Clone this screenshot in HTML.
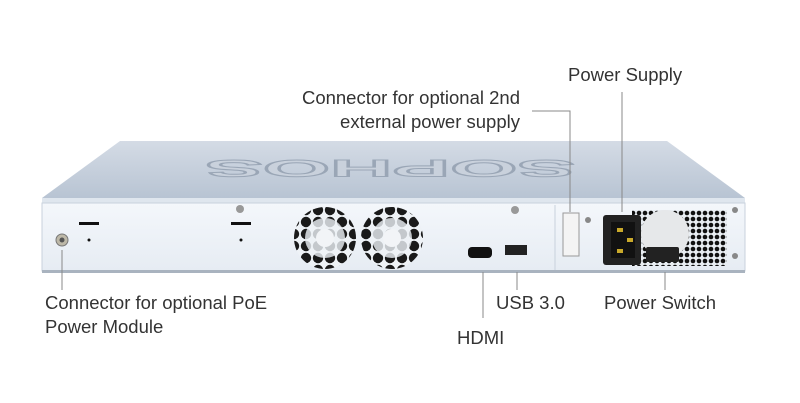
<!DOCTYPE html>
<html><head><style>
html,body{margin:0;padding:0;background:#fff;}
svg{display:block}
text{font-family:"Liberation Sans",sans-serif;font-size:18.5px;fill:#333;}
</style></head><body>
<svg width="800" height="403" viewBox="0 0 800 403">
<defs>
<linearGradient id="top" x1="0" y1="0" x2="0" y2="1">
<stop offset="0" stop-color="#d4dbe5"/><stop offset="1" stop-color="#b8c4d3"/>
</linearGradient>
<linearGradient id="front" x1="0" y1="0" x2="0" y2="1">
<stop offset="0" stop-color="#f4f7fb"/><stop offset="1" stop-color="#e6ecf3"/>
</linearGradient>
<pattern id="mesh" width="6" height="6" patternUnits="userSpaceOnUse">
<rect width="6" height="6" fill="#e8edf2"/><circle cx="3" cy="3" r="2.3" fill="#111"/>
</pattern>
<pattern id="hex" width="12" height="12" patternUnits="userSpaceOnUse">
<rect width="12" height="12" fill="#eef2f6"/><circle cx="6" cy="6" r="5.2" fill="#1a1a1a"/>
</pattern>
<pattern id="hexl" width="12" height="12" patternUnits="userSpaceOnUse">
<rect width="12" height="12" fill="#eef2f6"/><circle cx="6" cy="6" r="5.2" fill="#c4c8cc"/>
</pattern>
</defs>
<polygon points="42,198 120,141 667,141 745,198" fill="url(#top)"/>
<text x="390" y="176" text-anchor="middle" transform="rotate(180 390 168)" textLength="370" lengthAdjust="spacingAndGlyphs" style="font-size:24px;font-weight:bold;fill:#c9d1dc;stroke:#9aa6b6;stroke-width:1">SOPHOS</text>
<rect x="42" y="198" width="703" height="6" fill="#dfe6ee"/>
<rect x="42" y="203" width="703" height="68" fill="url(#front)" stroke="#c8d1dc"/>
<rect x="42" y="270" width="703" height="3" fill="#a9b3bf"/>
<line x1="555" y1="205" x2="555" y2="270" stroke="#c8d1dc"/>
<circle cx="62" cy="240" r="6" fill="#bdb8a8" stroke="#777"/>
<circle cx="62" cy="240" r="2.5" fill="#555"/>
<rect x="79" y="222" width="20" height="3" fill="#111"/><circle cx="89" cy="240" r="1.5" fill="#111"/>
<rect x="231" y="222" width="20" height="3" fill="#111"/><circle cx="241" cy="240" r="1.5" fill="#111"/>
<circle cx="240" cy="209" r="4" fill="#999"/>
<circle cx="515" cy="210" r="4" fill="#999"/>
<g>
<circle cx="325" cy="238" r="31" fill="url(#hex)"/><circle cx="325" cy="238" r="20" fill="url(#hexl)"/><circle cx="325" cy="238" r="9" fill="#f2f4f7"/>
<circle cx="392" cy="238" r="31" fill="url(#hex)"/><circle cx="392" cy="238" r="20" fill="url(#hexl)"/><circle cx="392" cy="238" r="9" fill="#f2f4f7"/>
</g>
<rect x="468" y="247" width="24" height="11" rx="4" fill="#111"/>
<rect x="505" y="245" width="22" height="10" fill="#222"/>
<rect x="563" y="213" width="16" height="43" fill="#f4f4f4" stroke="#999"/>
<circle cx="588" cy="220" r="3" fill="#888"/>
<rect x="632" y="210" width="95" height="56" fill="url(#mesh)"/>
<circle cx="665" cy="234" r="24" fill="#e6e8ea"/>
<rect x="603" y="215" width="38" height="50" rx="3" fill="#222"/>
<rect x="611" y="222" width="24" height="36" fill="#111"/>
<rect x="617" y="228" width="6" height="4" fill="#c9a92b"/><rect x="627" y="238" width="6" height="4" fill="#c9a92b"/><rect x="617" y="249" width="6" height="4" fill="#c9a92b"/>
<rect x="646" y="247" width="33" height="15" rx="2" fill="#222"/>
<circle cx="735" cy="210" r="3" fill="#888"/><circle cx="735" cy="256" r="3" fill="#888"/>
<g stroke="#888" stroke-width="1" fill="none">
<polyline points="532,111 570,111 570,212"/>
<line x1="622" y1="92" x2="622" y2="212"/>
<line x1="62" y1="250" x2="62" y2="290"/>
<line x1="483" y1="272" x2="483" y2="318"/>
<line x1="517" y1="272" x2="517" y2="290"/>
<line x1="665" y1="272" x2="665" y2="290"/>
</g>
<text x="568" y="81">Power Supply</text>
<text x="520" y="104" text-anchor="end">Connector for optional 2nd</text>
<text x="520" y="128" text-anchor="end">external power supply</text>
<text x="45" y="309">Connector for optional PoE</text>
<text x="45" y="333">Power Module</text>
<text x="496" y="309">USB 3.0</text>
<text x="604" y="309">Power Switch</text>
<text x="457" y="344">HDMI</text>
</svg>
</body></html>
